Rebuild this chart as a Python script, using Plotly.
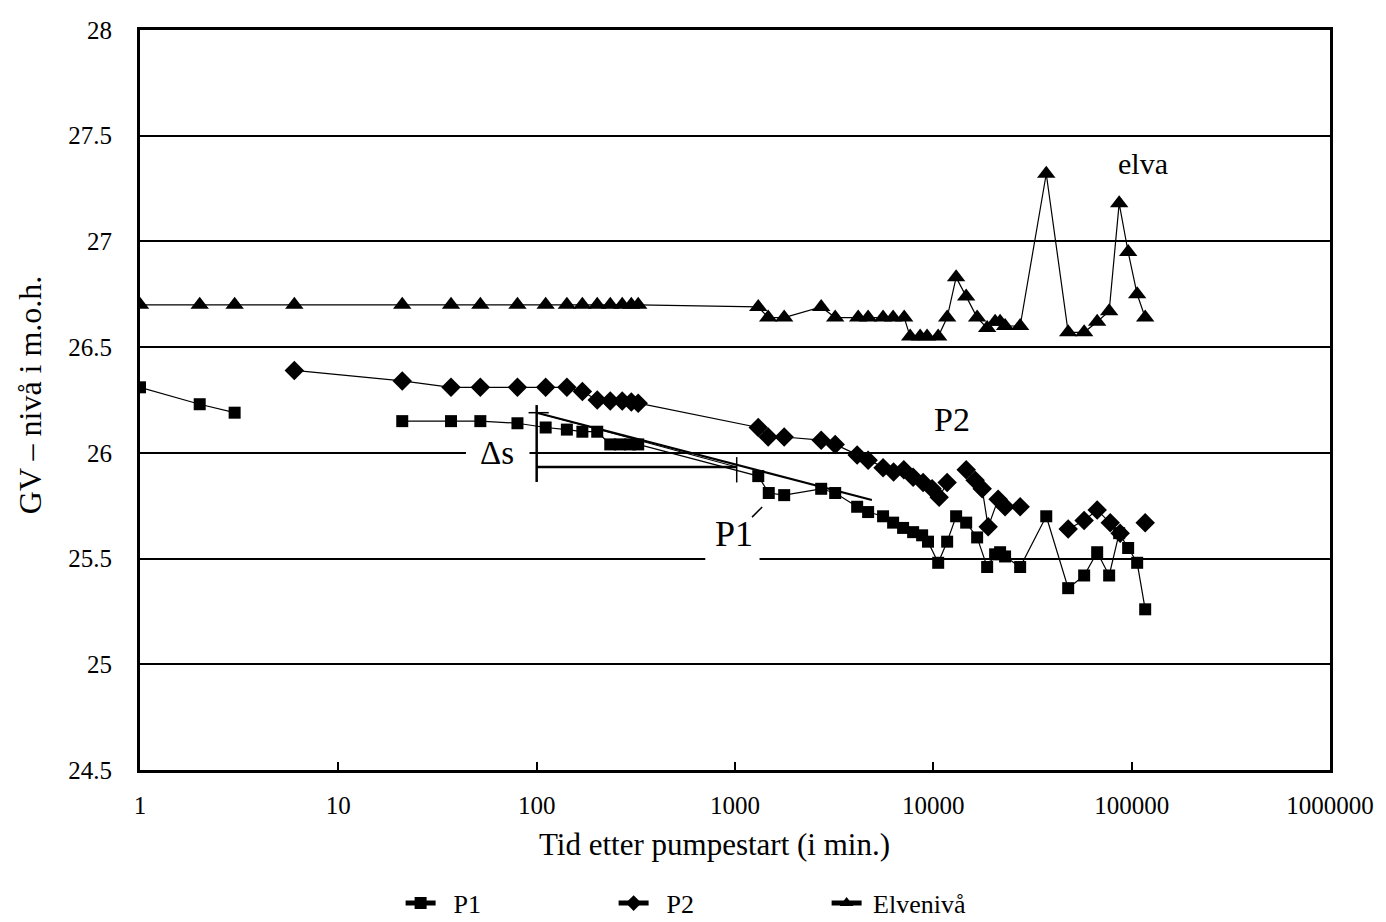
import plotly.graph_objects as go

# Time after pump start (minutes) and groundwater / river levels (m.o.h.)
p1_time = [1, 2, 3, None,
           21, 37, 52, 80, 111, 142, 170, 202, 235, 263, 296, 325,
           1310, 1480, 1770, 2720, 3200, 4130, 4690, 5580, 6270, 7040, 7910,
           8780, 9400, 10580, 11740, 13030, 14640, 16630, 18680, 20490, 21710,
           23000, 27400, 37100, 47850, 57600, 67000, 77000, 86500, 96000,
           106600, 117000]
p1_level = [26.31, 26.23, 26.19, None,
            26.15, 26.15, 26.15, 26.14, 26.12, 26.11, 26.10, 26.10, 26.04, 26.04, 26.04, 26.04,
            25.89, 25.81, 25.80, 25.83, 25.81, 25.745, 25.72, 25.70, 25.67, 25.645, 25.625,
            25.61, 25.58, 25.48, 25.58, 25.70, 25.67, 25.60, 25.46, 25.52, 25.53,
            25.51, 25.46, 25.70, 25.36, 25.42, 25.53, 25.42, 25.62, 25.55,
            25.48, 25.26]

p2_time = [6, 21, 37, 52, 80, 111, 142, 170, 202, 235, 270, 300, 325,
           1310, 1470, 1770, 2720, 3200, 4130, 4690, 5580, 6300, 7100, 7910,
           8880, 9860, 10700, 11740, None,
           14640, 16250, 17630, 18900, 21220, 23000, 27400, None,
           47850, 57600, 67000, 78000, 87500, None,
           117000]
p2_level = [26.39, 26.34, 26.31, 26.31, 26.31, 26.31, 26.31, 26.29, 26.25, 26.245, 26.245, 26.24, 26.235,
            26.12, 26.075, 26.075, 26.06, 26.04, 25.99, 25.965, 25.93, 25.91, 25.92, 25.885,
            25.86, 25.83, 25.79, 25.86, None,
            25.92, 25.87, 25.83, 25.65, 25.78, 25.745, 25.745, None,
            25.64, 25.68, 25.73, 25.67, 25.62, None,
            25.67]

elv_time = [1, 2, 3, 6, 21, 37, 52, 80, 111, 142, 170, 202, 235, 270, 300, 325,
            1310, 1470, 1770, 2720, 3200, 4180, 4690, 5580, 6270, 7130,
            7640, 8580, 9300, 10580, 11740, 13030, 14640, 16630, 18680, 20490,
            21710, 23000, 27400, 37100, 47850, 57600, 67000, 77000, 86500,
            96000, 106600, 117000]
elv_level = [26.7, 26.7, 26.7, 26.7, 26.7, 26.7, 26.7, 26.7, 26.7, 26.7, 26.7, 26.7, 26.7, 26.7, 26.7, 26.7,
             26.69, 26.64, 26.64, 26.69, 26.64, 26.64, 26.64, 26.64, 26.64, 26.64,
             26.55, 26.55, 26.55, 26.55, 26.64, 26.83, 26.74, 26.64, 26.59, 26.62,
             26.62, 26.60, 26.60, 27.32, 26.57, 26.57, 26.62, 26.67, 27.18,
             26.95, 26.75, 26.64]

series_names = ["\u00a0\u00a0P1", "\u00a0\u00a0P2", "\u00a0Elvenivå"]

x_tickvals = [1, 10, 100, 1000, 10000, 100000, 1000000]
x_ticktext = ["1", "10", "100", "1000", "10000", "100000", "1000000"]

# Drawdown construction (Δs read between 100 and 1000 min)
ds_t0, ds_t1 = 100, 1020
ds_top, ds_bottom = 26.19, 25.933
fit_end_t, fit_end_level = 4900, 25.777

SERIF = "Liberation Serif, Times New Roman, serif"

fig = go.Figure()
fig.add_trace(go.Scatter(x=p1_time, y=p1_level, name=series_names[0], mode="lines+markers",
                         line=dict(color="black", width=1.2),
                         marker=dict(symbol="square", size=12, color="black"),
                         connectgaps=False))
fig.add_trace(go.Scatter(x=p2_time, y=p2_level, name=series_names[1], mode="lines+markers",
                         line=dict(color="black", width=1.2),
                         marker=dict(symbol="diamond", size=15, color="black"),
                         connectgaps=False))
fig.add_trace(go.Scatter(x=elv_time, y=elv_level, name=series_names[2], mode="lines+markers",
                         line=dict(color="black", width=1.2),
                         marker=dict(symbol="triangle-up", size=16, color="black"),
                         connectgaps=False))

line_style = lambda w: dict(color="black", width=w)
shapes = [
    # white patches behind labels that break the gridlines
    dict(type="rect", xref="x", yref="y", layer="between",
         x0=44, x1=92, y0=25.955, y1=26.06,
         fillcolor="white", line=dict(width=0)),
    dict(type="rect", xref="x", yref="y", layer="between",
         x0=708, x1=1330, y0=25.48, y1=25.70,
         fillcolor="white", line=dict(width=0)),
    # vertical Δs bar at t0
    dict(type="line", xref="x", yref="y", x0=ds_t0, x1=ds_t0,
         y0=26.226, y1=25.862, line=line_style(2.5)),
    dict(type="line", xref="x", yref="y", x0=91, x1=115,
         y0=ds_top, y1=ds_top, line=line_style(1.5)),
    # horizontal reference line
    dict(type="line", xref="x", yref="y", x0=ds_t0, x1=ds_t1,
         y0=ds_bottom, y1=ds_bottom, line=line_style(2.5)),
    dict(type="line", xref="x", yref="y", x0=ds_t1, x1=ds_t1,
         y0=25.98, y1=25.86, line=line_style(1.5)),
    # straight-line fits on the semi-log plot
    dict(type="line", xref="x", yref="y", x0=ds_t0, x1=fit_end_t,
         y0=ds_top, y1=fit_end_level, line=line_style(2)),
    dict(type="line", xref="x", yref="y", x0=ds_t0, x1=ds_t1,
         y0=ds_top, y1=ds_bottom, line=line_style(1)),
    # leader from the P1 label
    dict(type="line", xref="x", yref="y", x0=1219, x1=1371,
         y0=25.696, y1=25.744, line=line_style(1.5)),
]

annotations = [
    dict(text="elva", x=5.058, y=27.37, xref="x", yref="y", showarrow=False,
         font=dict(family=SERIF, size=30, color="black")),
    dict(text="P2", x=4.095, y=26.16, xref="x", yref="y", showarrow=False,
         font=dict(family=SERIF, size=34, color="black")),
    dict(text="P1", x=2.995, y=25.615, xref="x", yref="y", showarrow=False,
         font=dict(family=SERIF, size=36, color="black")),
    dict(text="Δs", x=1.80, y=26.0, xref="x", yref="y", showarrow=False,
         font=dict(family=SERIF, size=33, color="black")),
    dict(text="Tid etter pumpestart (i min.)", x=0.483, y=-0.1, xref="paper", yref="paper",
         showarrow=False, xanchor="center", yanchor="middle",
         font=dict(family=SERIF, size=31, color="black")),
    dict(text="GV – nivå i m.o.h.", x=-0.093, y=0.507, xref="paper", yref="paper",
         showarrow=False, textangle=-90, xanchor="center", yanchor="middle",
         font=dict(family=SERIF, size=32, color="black")),
]

fig.update_layout(
    width=1386, height=922,
    margin=dict(l=140, r=56, t=30, b=152, autoexpand=False),
    paper_bgcolor="white", plot_bgcolor="white",
    font=dict(family=SERIF, size=24, color="black"),
    shapes=shapes, annotations=annotations,
    showlegend=True,
    legend=dict(orientation="h", x=0.219, y=-0.18, xanchor="left", yanchor="middle",
                font=dict(family=SERIF, size=26, color="black"),
                entrywidth=168, entrywidthmode="pixels",
                bgcolor="rgba(0,0,0,0)", itemsizing="constant"),
)
fig.update_xaxes(type="log", range=[0, 6], tickvals=x_tickvals, ticktext=x_ticktext,
                 showgrid=False, zeroline=False, ticks="inside", ticklen=8,
                 tickcolor="black", tickwidth=1.5, showline=True, linewidth=2.5,
                 linecolor="black", mirror=True, ticklabelstandoff=11,
                 tickfont=dict(family=SERIF, size=25, color="black"))
fig.update_yaxes(range=[24.5, 28], dtick=0.5, tick0=24.5, showgrid=True,
                 gridcolor="black", gridwidth=1.5, zeroline=False, ticks="",
                 showline=True, linewidth=3, linecolor="black", mirror=True,
                 ticklabelstandoff=20,
                 tickfont=dict(family=SERIF, size=25, color="black"))

fig.write_html("out.html")
